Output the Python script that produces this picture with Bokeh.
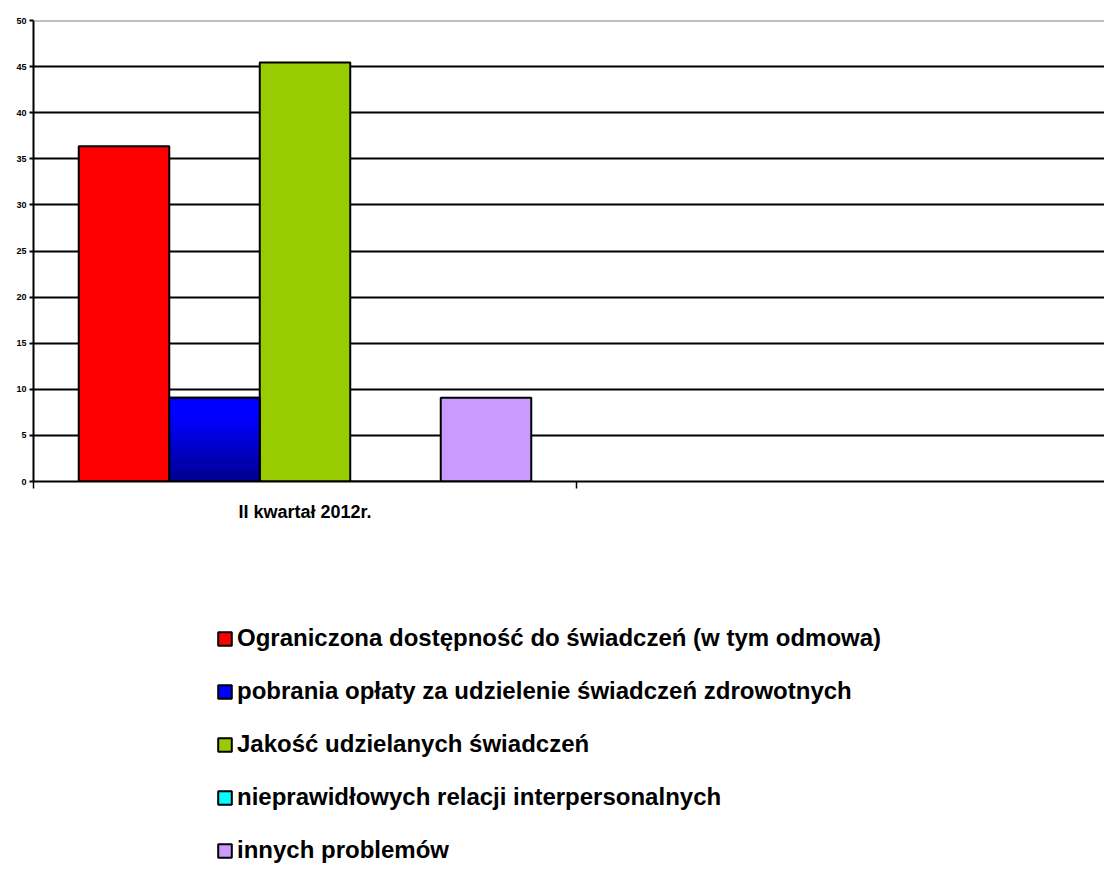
import numpy as np
from bokeh.plotting import figure
from bokeh.layouts import column
from bokeh.models import Range1d, FixedTicker, Span, Legend, LegendItem, ColumnDataSource
from bokeh.embed import file_html
from bokeh.resources import INLINE

# ---- data ----
categories = ["II kwartał 2012r."]
series = [
    "Ograniczona dostępność do świadczeń (w tym odmowa)",
    "pobrania opłaty za udzielenie świadczeń zdrowotnych",
    "Jakość udzielanych świadczeń",
    "nieprawidłowych relacji interpersonalnych",
    "innych problemów",
]
values = [36.36, 9.09, 45.45, 0.0, 9.09]
colors = ["#FF0000", "#0000FF", "#99CC00", "#00FFFF", "#CC99FF"]
y_ticks = [0, 5, 10, 15, 20, 25, 30, 35, 40, 45, 50]

FONT = "Liberation Sans"
W = 1104
H1, H2 = 541, 325
LEFT, TOP = 33, 20
BOTTOM = 60
CAT_PX = 543.0
frame_w = W - LEFT
x_end = frame_w / CAT_PX

n = len(series)
bw = 1.0 / (n + 1)
centers = [0.5 + (i - (n - 1) / 2) * bw for i in range(n)]

p = figure(width=W, height=H1, output_backend="svg", toolbar_location=None,
           x_range=Range1d(0, x_end), y_range=Range1d(0, 50),
           min_border_left=LEFT, min_border_top=TOP, min_border_right=0,
           min_border_bottom=BOTTOM)
p.outline_line_color = None
p.background_fill_color = "white"

src = ColumnDataSource(dict(x=centers, top=values, color=colors, label=series))
r = p.vbar(x="x", top="top", width=bw, bottom=0, source=src, fill_color="color",
           line_color="black", line_width=2)

# gradient overlay for the second series (blue -> dark navy)
gi = 1
nseg = 30
seg_b = [values[gi] * k / nseg for k in range(nseg)]
seg_t = [values[gi] * (k + 1) / nseg for k in range(nseg)]
seg_c = []
for k in range(nseg):
    f = (k + 0.5) / nseg
    b = int(round(0x88 + (0xFF - 0x88) * min(1.0, f * 1.3)))
    seg_c.append("#0000%02X" % b)
p.quad(left=centers[gi] - bw / 2, right=centers[gi] + bw / 2, bottom=seg_b, top=seg_t,
       fill_color=seg_c, line_color=None)
p.vbar(x=[centers[gi]], top=[values[gi]], width=bw, bottom=0, fill_alpha=0,
       line_color="black", line_width=2)

# top border
p.add_layout(Span(location=y_ticks[-1], dimension="width", line_color="#808080", line_width=2))

# grid
p.xgrid.grid_line_color = None
p.ygrid.ticker = FixedTicker(ticks=y_ticks[1:-1])
p.ygrid.grid_line_color = "black"
p.ygrid.grid_line_width = 2
p.ygrid.level = "underlay"

# y axis
p.yaxis.ticker = FixedTicker(ticks=y_ticks)
p.yaxis.axis_line_color = "black"
p.yaxis.axis_line_width = 2
p.yaxis.major_tick_line_width = 2
p.yaxis.major_tick_out = 4
p.yaxis.major_tick_in = 0
p.yaxis.minor_tick_line_color = None
p.yaxis.major_label_text_font = FONT
p.yaxis.major_label_text_font_style = "bold"
p.yaxis.major_label_text_font_size = "9px"
p.yaxis.major_label_text_color = "black"
p.yaxis.major_label_standoff = 3

# x axis
p.xaxis.ticker = FixedTicker(ticks=[0.5], minor_ticks=[0, 1, 2])
p.xaxis.major_label_overrides = {0.5: categories[0]}
p.xaxis.axis_line_color = "black"
p.xaxis.axis_line_width = 2
p.xaxis.major_tick_line_color = None
p.xaxis.major_tick_out = 0
p.xaxis.major_tick_in = 0
p.xaxis.minor_tick_line_color = "black"
p.xaxis.minor_tick_line_width = 1.5
p.xaxis.minor_tick_out = 7
p.xaxis.minor_tick_in = 0
p.xaxis.major_label_text_font = FONT
p.xaxis.major_label_text_font_style = "bold"
p.xaxis.major_label_text_font_size = "18px"
p.xaxis.major_label_text_color = "black"
p.xaxis.major_label_standoff = 13

# ---- legend figure ----
p2 = figure(width=W, height=H2, output_backend="svg", toolbar_location=None,
            x_axis_type=None, y_axis_type=None,
            min_border_left=0, min_border_right=0, min_border_top=0, min_border_bottom=0)
p2.outline_line_color = None
p2.xgrid.visible = False
p2.ygrid.visible = False
r2 = p2.vbar(x="x", top="top", width=bw, bottom=0, source=src, fill_color="color",
             line_color="black", line_width=2, visible=False)

items = [LegendItem(label=series[i], renderers=[r2], index=i) for i in range(n)]
legend = Legend(items=items, location=(183, 1), orientation="vertical",
                label_text_font=FONT, label_text_font_style="bold",
                label_text_font_size="24px", label_text_color="black",
                glyph_width=17, glyph_height=17, label_height=30, spacing=23,
                padding=0, margin=0, label_standoff=4,
                border_line_color=None, background_fill_alpha=0,
                inactive_fill_alpha=0)
p2.add_layout(legend, "center")

layout = column(p, p2, spacing=0)
open("out.html", "w").write(file_html(layout, INLINE))
